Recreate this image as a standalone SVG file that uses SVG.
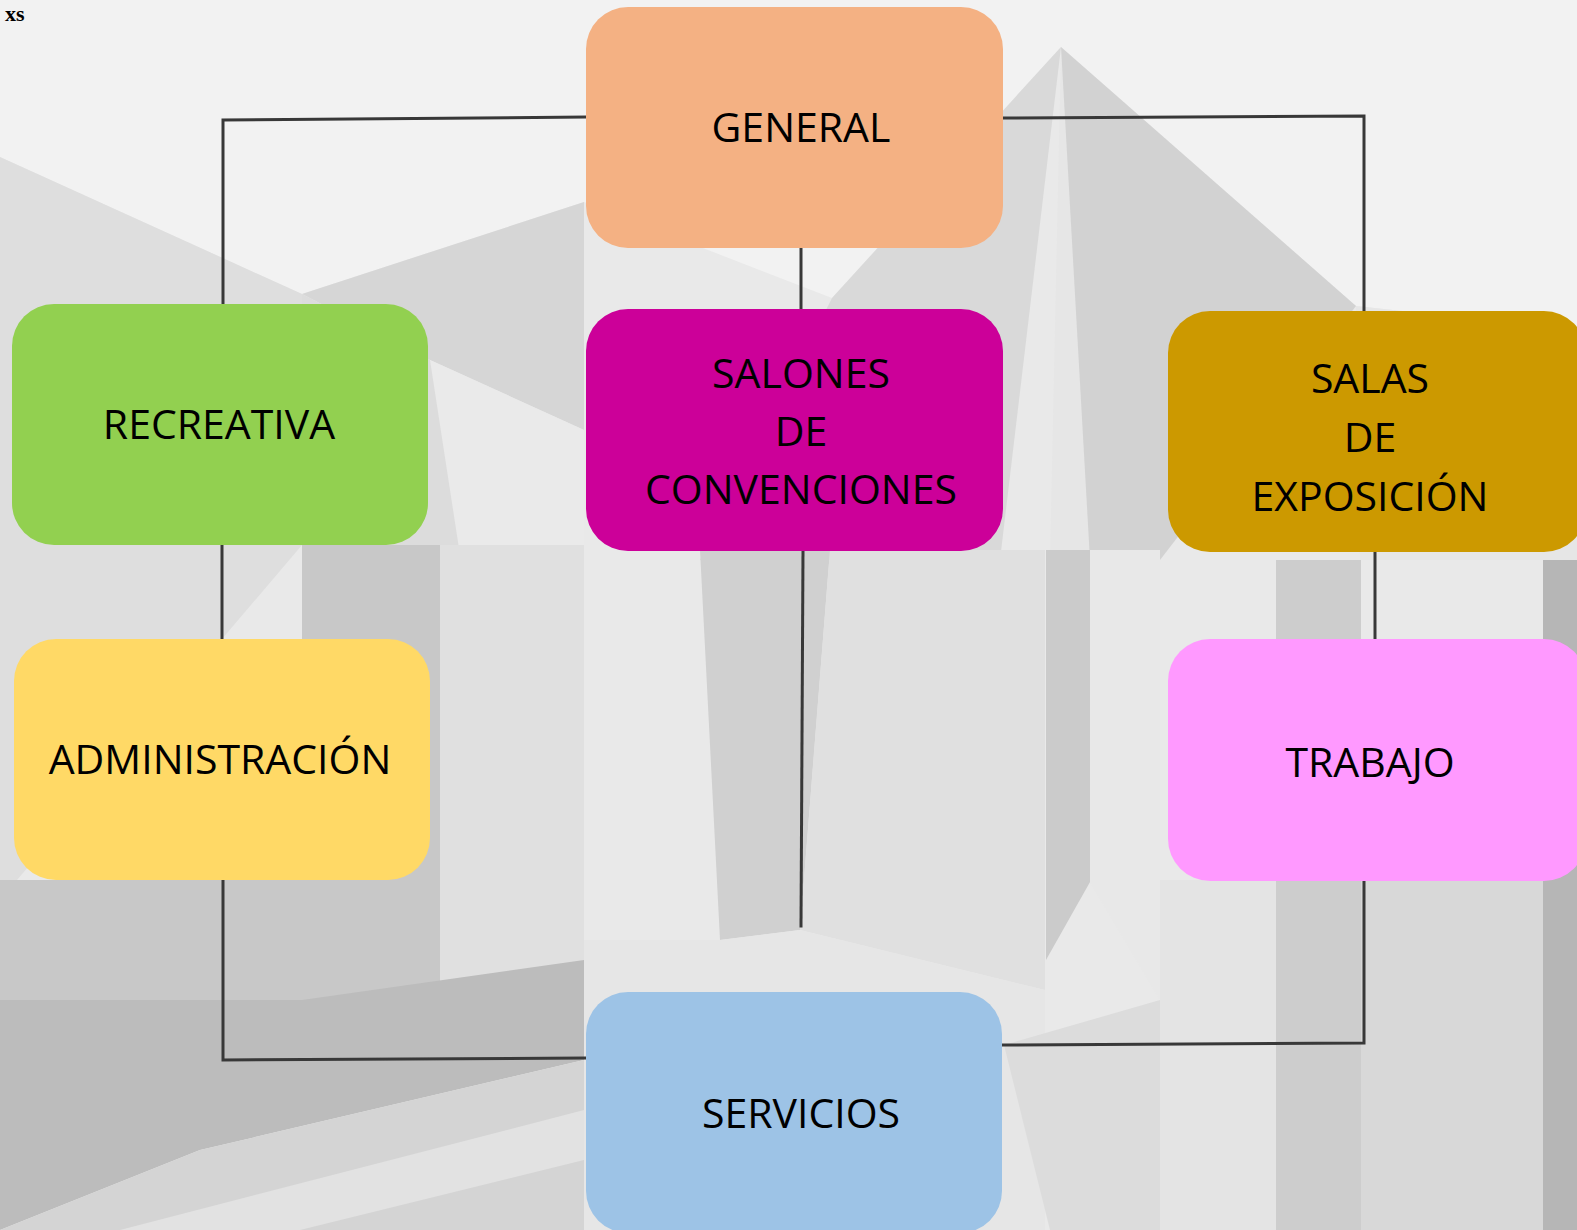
<svg xmlns="http://www.w3.org/2000/svg" width="1577" height="1230" viewBox="0 0 1577 1230">
  <style>
    .box { stroke: none; }
    .lbl { font-family: "Open Sans", "Liberation Sans", sans-serif; font-size: 41px; fill: #000; text-anchor: middle; }
    .conn { fill: none; stroke: #383838; stroke-width: 3; stroke-linecap: square; stroke-linejoin: miter; }
  </style>
  <g id="background">
    <rect x="0" y="0" width="1577" height="1230" fill="#e9e9e9"/>
    <polygon points="0,0 1577,0 1577,330 1356,306 1061,47 832,298 584,202 302,294 0,157" fill="#f2f2f2"/>
    <polygon points="0,157 302,294 302,545 0,900" fill="#dedede"/>
    <polygon points="302,294 584,202 584,430 430,360" fill="#d6d6d6"/>
    <polygon points="430,360 584,430 584,620 470,620" fill="#eaeaea"/>
    <polygon points="302,294 430,360 470,620 302,620" fill="#dcdcdc"/>
    <polygon points="302,545 440,545 440,1000 302,1000" fill="#c8c8c8"/>
    <polygon points="440,545 584,545 584,960 440,1000" fill="#e0e0e0"/>
    <polygon points="0,880 302,880 302,1000 0,1020" fill="#c8c8c8"/>
    <polygon points="0,1000 302,1000 584,960 584,1060 200,1150 0,1230" fill="#bcbcbc"/>
    <polygon points="0,1230 200,1150 584,1060 584,1230" fill="#d4d4d4"/>
    <polygon points="120,1230 584,1110 584,1160 300,1230" fill="#e2e2e2"/>
    <polygon points="832,298 1061,47 1000,560 700,560" fill="#d9d9d9"/>
    <polygon points="1061,47 1356,306 1160,560 1069,560" fill="#d2d2d2"/>
    <polygon points="1061,47 1090,560 1050,560" fill="#e6e6e6"/>
    <polygon points="700,550 830,550 800,930 720,940" fill="#d0d0d0"/>
    <polygon points="830,550 1045,550 1045,990 800,930" fill="#e0e0e0"/>
    <polygon points="1046,550 1090,550 1090,882 1046,960" fill="#cbcbcb"/>
    <polygon points="1090,550 1160,550 1160,1000 1090,882" fill="#e8e8e8"/>
    <polygon points="584,940 720,940 800,930 1045,990 1045,1230 584,1230" fill="#e6e6e6"/>
    <polygon points="1004,1045 1160,1000 1270,1230 1050,1230" fill="#dcdcdc"/>
    <polygon points="1160,880 1276,880 1276,1230 1160,1230" fill="#e4e4e4"/>
    <polygon points="1276,560 1361,560 1361,1230 1276,1230" fill="#cdcdcd"/>
    <polygon points="1361,880 1543,880 1543,1230 1361,1230" fill="#d8d8d8"/>
    <polygon points="1543,540 1577,540 1577,1230 1543,1230" fill="#b6b6b6"/>
    <polygon points="1356,306 1577,330 1577,560 1360,560" fill="#e6e6e6"/>
  </g>
  <text x="5" y="21" font-family="Liberation Serif, serif" font-weight="bold" font-size="22" fill="#000">xs</text>
  <g id="connectors">
    <polyline class="conn" points="586,117 223,120 223,304"/>
    <polyline class="conn" points="1003,118 1364,116 1364,311"/>
    <line class="conn" x1="801" y1="248" x2="801" y2="309"/>
    <line class="conn" x1="222" y1="545" x2="222" y2="639"/>
    <line class="conn" x1="803" y1="551" x2="801" y2="926"/>
    <line class="conn" x1="1375" y1="552" x2="1375" y2="639"/>
    <polyline class="conn" points="223,880 223,1060 586,1058"/>
    <polyline class="conn" points="1364,880 1364,1043 1002,1045"/>
  </g>
  <g id="n-general">
    <rect class="box" x="586" y="7" width="417" height="241" rx="42" fill="#f4b183"/>
    <text class="lbl" x="801" y="142">GENERAL</text>
  </g>
  <g id="n-recreativa">
    <rect class="box" x="12" y="304" width="416" height="241" rx="42" fill="#92d050"/>
    <text class="lbl" x="219" y="439">RECREATIVA</text>
  </g>
  <g id="n-salones">
    <rect class="box" x="586" y="309" width="417" height="242" rx="42" fill="#cc0099"/>
    <text class="lbl" x="801" y="388">SALONES</text>
    <text class="lbl" x="801" y="446">DE</text>
    <text class="lbl" x="801" y="504">CONVENCIONES</text>
  </g>
  <g id="n-salas">
    <rect class="box" x="1168" y="311" width="418" height="241" rx="42" fill="#cc9900"/>
    <text class="lbl" x="1370" y="393">SALAS</text>
    <text class="lbl" x="1370" y="452">DE</text>
    <text class="lbl" x="1370" y="511">EXPOSICIÓN</text>
  </g>
  <g id="n-administracion">
    <rect class="box" x="14" y="639" width="416" height="241" rx="42" fill="#ffd966"/>
    <text class="lbl" x="220" y="774">ADMINISTRACIÓN</text>
  </g>
  <g id="n-trabajo">
    <rect class="box" x="1168" y="639" width="418" height="242" rx="42" fill="#ff99ff"/>
    <text class="lbl" x="1370" y="777">TRABAJO</text>
  </g>
  <g id="n-servicios">
    <rect class="box" x="586" y="992" width="416" height="241" rx="42" fill="#9dc3e6"/>
    <text class="lbl" x="801" y="1128">SERVICIOS</text>
  </g>
</svg>
